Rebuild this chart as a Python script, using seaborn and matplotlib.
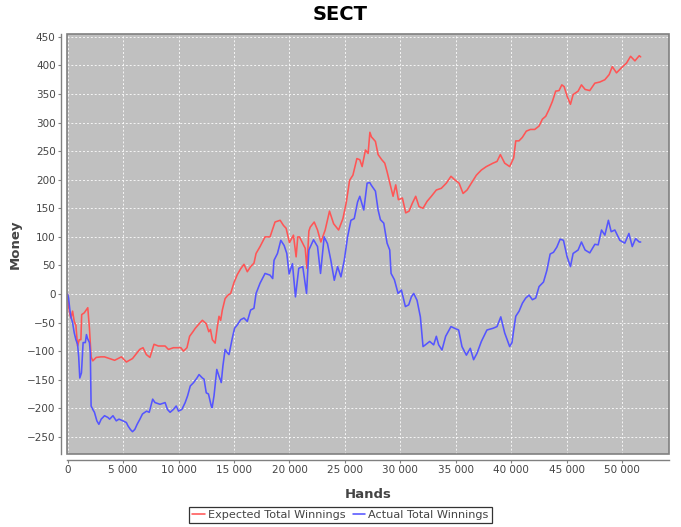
import matplotlib
matplotlib.use("Agg")
import matplotlib.pyplot as plt
import matplotlib.ticker as mticker
from matplotlib.patches import Rectangle
import seaborn as sns
import pandas as pd

# Expected total winnings (red)
exp_hands = [0, 90, 200, 300, 450, 600, 750, 900, 1050, 1200, 1270, 1500, 1820, 1970, 2120,
             2270, 2580, 3000, 3330, 3800, 4240, 4850, 5300, 5850, 6500, 6800, 7100, 7420,
             7790, 8180, 8790, 9090, 9540, 10210, 10450, 10760, 11000, 11300, 11510, 11820,
             12150, 12500, 12730, 12880, 13050, 13300, 13500, 13650, 13800, 13950, 14200,
             14450, 14700, 15000, 15300, 15600, 15900, 16200, 16500, 16800, 16990, 17350,
             17800, 18250, 18700, 19160, 19460, 19700, 20000, 20360, 20600, 20750, 20900,
             21420, 21570, 21750, 21870, 22230, 22530, 22830, 23220, 23610, 23980, 24430,
             24820, 25120, 25420, 25720, 26080, 26340, 26550, 26850, 27090, 27250, 27390,
             27750, 27990, 28320, 28590, 28800, 29100, 29340, 29580, 29820, 30180, 30480,
             30780, 31080, 31380, 31680, 32040, 32400, 32790, 33240, 33690, 34140, 34560,
             34890, 35290, 35650, 36010, 36400, 36850, 37300, 37750, 38350, 38710, 39010,
             39400, 39850, 40210, 40400, 40690, 40990, 41350, 41720, 42110, 42500, 42800,
             43100, 43400, 43700, 44000, 44300, 44550, 44760, 45030, 45330, 45570, 46020,
             46320, 46650, 47070, 47530, 47980, 48430, 48820, 49100, 49480, 49930, 50380,
             50750, 51140, 51530, 51660]
exp_money = [0, -21, -35, -42, -30, -48, -55, -91, -80, -80, -36, -33, -24, -60, -110,
             -117, -111, -110, -110, -113, -116, -110, -119, -113, -97, -94, -106, -111,
             -88, -91, -91, -97, -94, -94, -100, -94, -74, -66, -60, -53,
             -46, -52, -66, -62, -80, -86, -57, -39, -46, -28, -8,
             -2, 1, 20, 34, 44, 52, 39, 48, 54, 71, 83,
             100, 100, 126, 129, 120, 115, 90, 103, 65, 100, 100,
             80, 45, 110, 117, 126, 112, 91, 112, 145, 123, 112,
             132, 160, 199, 208, 237, 235, 223, 252, 246, 283, 275,
             267, 244, 235, 229, 214, 190, 171, 191, 165, 168, 142,
             145, 159, 171, 153, 150, 162, 171, 182, 185, 194, 206,
             200, 194, 176, 182, 194, 208, 217, 223, 229, 232, 244,
             229, 223, 238, 268, 268, 274, 285, 288, 288, 294, 306,
             311, 323, 337, 355, 356, 366, 363, 346, 332, 349, 355,
             366, 358, 356, 369, 371, 375, 384, 398, 387, 396, 404,
             416, 408, 417, 415]

# Actual total winnings (blue)
act_hands = [0, 90, 200, 300, 450, 600, 750, 900, 1000, 1100, 1250, 1400, 1600, 1700, 1800,
             1970, 2050, 2120, 2270, 2420, 2640, 2820, 3030, 3330, 3630, 3790, 4090, 4390,
             4630, 4990, 5300, 5450, 5660, 5850, 6060, 6270, 6520, 6750, 7120, 7360, 7670,
             7880, 8330, 8790, 9000, 9240, 9540, 9790, 10000, 10300, 10600, 10820, 11060,
             11360, 11660, 11850, 12150, 12300, 12500, 12700, 12950, 13030, 13200, 13450,
             13650, 13850, 14000, 14200, 14400, 14550, 14850, 15050, 15300, 15600, 15900,
             16200, 16500, 16800, 16990, 17350, 17800, 18250, 18490, 18610, 18920, 19220,
             19520, 19760, 19970, 20270, 20540, 20840, 21200, 21540, 21750, 22170, 22530,
             22800, 23130, 23430, 23730, 24040, 24340, 24640, 24940, 25240, 25540, 25840,
             26140, 26340, 26700, 27000, 27240, 27390, 27750, 27990, 28200, 28500, 28800,
             29040, 29160, 29460, 29790, 30090, 30450, 30750, 30990, 31200, 31500, 31800,
             32040, 32250, 32640, 33000, 33240, 33450, 33750, 34080, 34560, 34890, 35250,
             35550, 35950, 36300, 36600, 36900, 37300, 37800, 38350, 38710, 39050, 39400,
             39850, 40060, 40200, 40400, 40700, 41000, 41300, 41600, 41900, 42200, 42500,
             42900, 43200, 43500, 43800, 44100, 44400, 44700, 45030, 45330, 45570, 46020,
             46320, 46650, 47070, 47530, 47830, 48130, 48430, 48750, 49000, 49330, 49780,
             50230, 50600, 50900, 51200, 51530, 51660]
act_money = [0, -7, -27, -40, -50, -68, -80, -88, -110, -147, -138, -85, -85, -71, -78,
             -85, -103, -196, -202, -207, -222, -228, -219, -213, -216, -219, -213, -222,
             -219, -222, -225, -231, -237, -241, -237, -228, -219, -210, -205, -207, -184,
             -190, -193, -190, -202, -207, -202, -196, -205, -202, -190, -178, -161,
             -155, -147, -141, -147, -149, -173, -175, -196, -199, -178, -132,
             -144, -155, -126, -97, -103, -106, -77, -60, -54, -45, -42,
             -48, -28, -25, 1, 19, 36, 33, 27, 59, 71, 94,
             85, 71, 35, 53, -5, 45, 48, 1, 77, 95, 83,
             36, 100, 88, 59, 24, 48, 30, 59, 100, 129, 132,
             161, 171, 147, 194, 195, 190, 180, 147, 130, 124, 89,
             77, 36, 25, 1, 7, -22, -19, -5, 1, -11, -40,
             -92, -89, -83, -89, -74, -89, -98, -74, -57, -60, -63,
             -92, -107, -95, -115, -104, -83, -63, -60, -57, -40, -68,
             -92, -85, -65, -39, -30, -16, -7, -2, -10, -7, 13,
             21, 41, 70, 73, 82, 96, 94, 65, 48, 71, 77,
             91, 77, 72, 87, 86, 112, 103, 129, 109, 112, 94,
             89, 106, 83, 97, 91, 91]

df_exp = pd.DataFrame({"Hands": exp_hands, "Money": exp_money})
df_act = pd.DataFrame({"Hands": act_hands, "Money": act_money})

sns.set_style("white")
plt.rcParams["font.family"] = ["DejaVu Sans"]

fig = plt.figure(figsize=(6.81, 5.27), dpi=100)
ax = fig.add_axes([66.7 / 681, 1 - 454 / 527, (669.3 - 66.7) / 681, (454 - 34.3) / 527])
ax.set_facecolor("#c0c0c0")

sns.lineplot(data=df_exp, x="Hands", y="Money", color="#ff5555", lw=1.15,
             label="Expected Total Winnings", ax=ax)
sns.lineplot(data=df_act, x="Hands", y="Money", color="#5555ff", lw=1.15,
             label="Actual Total Winnings", ax=ax)

ax.set_xlim(-80, 54240)
ax.set_ylim(-280, 454.5)
ax.set_xticks(range(0, 50001, 5000))
ax.set_yticks(range(-250, 451, 50))
ax.xaxis.set_major_formatter(mticker.FuncFormatter(lambda v, p: f"{int(v):,}".replace(",", " ")))
ax.grid(True, color="white", linestyle=(0, (2, 2)), lw=0.7, alpha=0.85)

# offset axis lines like the original, plus a frame around the plot area
for s in ["top", "right"]:
    ax.spines[s].set_visible(False)
for s in ["left", "bottom"]:
    ax.spines[s].set_position(("outward", 4))
    ax.spines[s].set_color("#808080")
    ax.spines[s].set_linewidth(1.0)
ax.add_patch(Rectangle((0, 0), 1, 1, transform=ax.transAxes, fill=False,
                       edgecolor="#808080", lw=1.2, clip_on=False, zorder=5))

ax.tick_params(axis="both", which="major", length=2, width=0.8, color="#808080",
               labelcolor="#444444", labelsize=7.5, pad=2, bottom=True, left=True)

ax.set_xlabel("Hands", fontsize=9.5, fontweight="bold", color="#444444")
ax.set_ylabel("Money", fontsize=9.5, fontweight="bold", color="#444444")
ax.xaxis.set_label_coords(0.5, -0.081)
ax.yaxis.set_label_coords(-0.0745, 0.5)

fig.text(0.5, 1 - 14 / 527, "SECT", ha="center", va="center",
         fontsize=14, fontweight="bold", color="black")

ax.get_legend().remove()
handles, labels = ax.get_legend_handles_labels()
leg = fig.legend(handles, labels, loc="center", bbox_to_anchor=(340.5 / 681, 1 - 515 / 527),
                 ncol=2, frameon=True, fancybox=False, fontsize=8.1, handlelength=1.1,
                 handletextpad=0.3, columnspacing=0.6, borderpad=0.3, borderaxespad=0)
leg.get_frame().set_edgecolor("black")
leg.get_frame().set_linewidth(0.9)
for t in leg.get_texts():
    t.set_color("#444444")

fig.savefig("out.png", dpi=100)
